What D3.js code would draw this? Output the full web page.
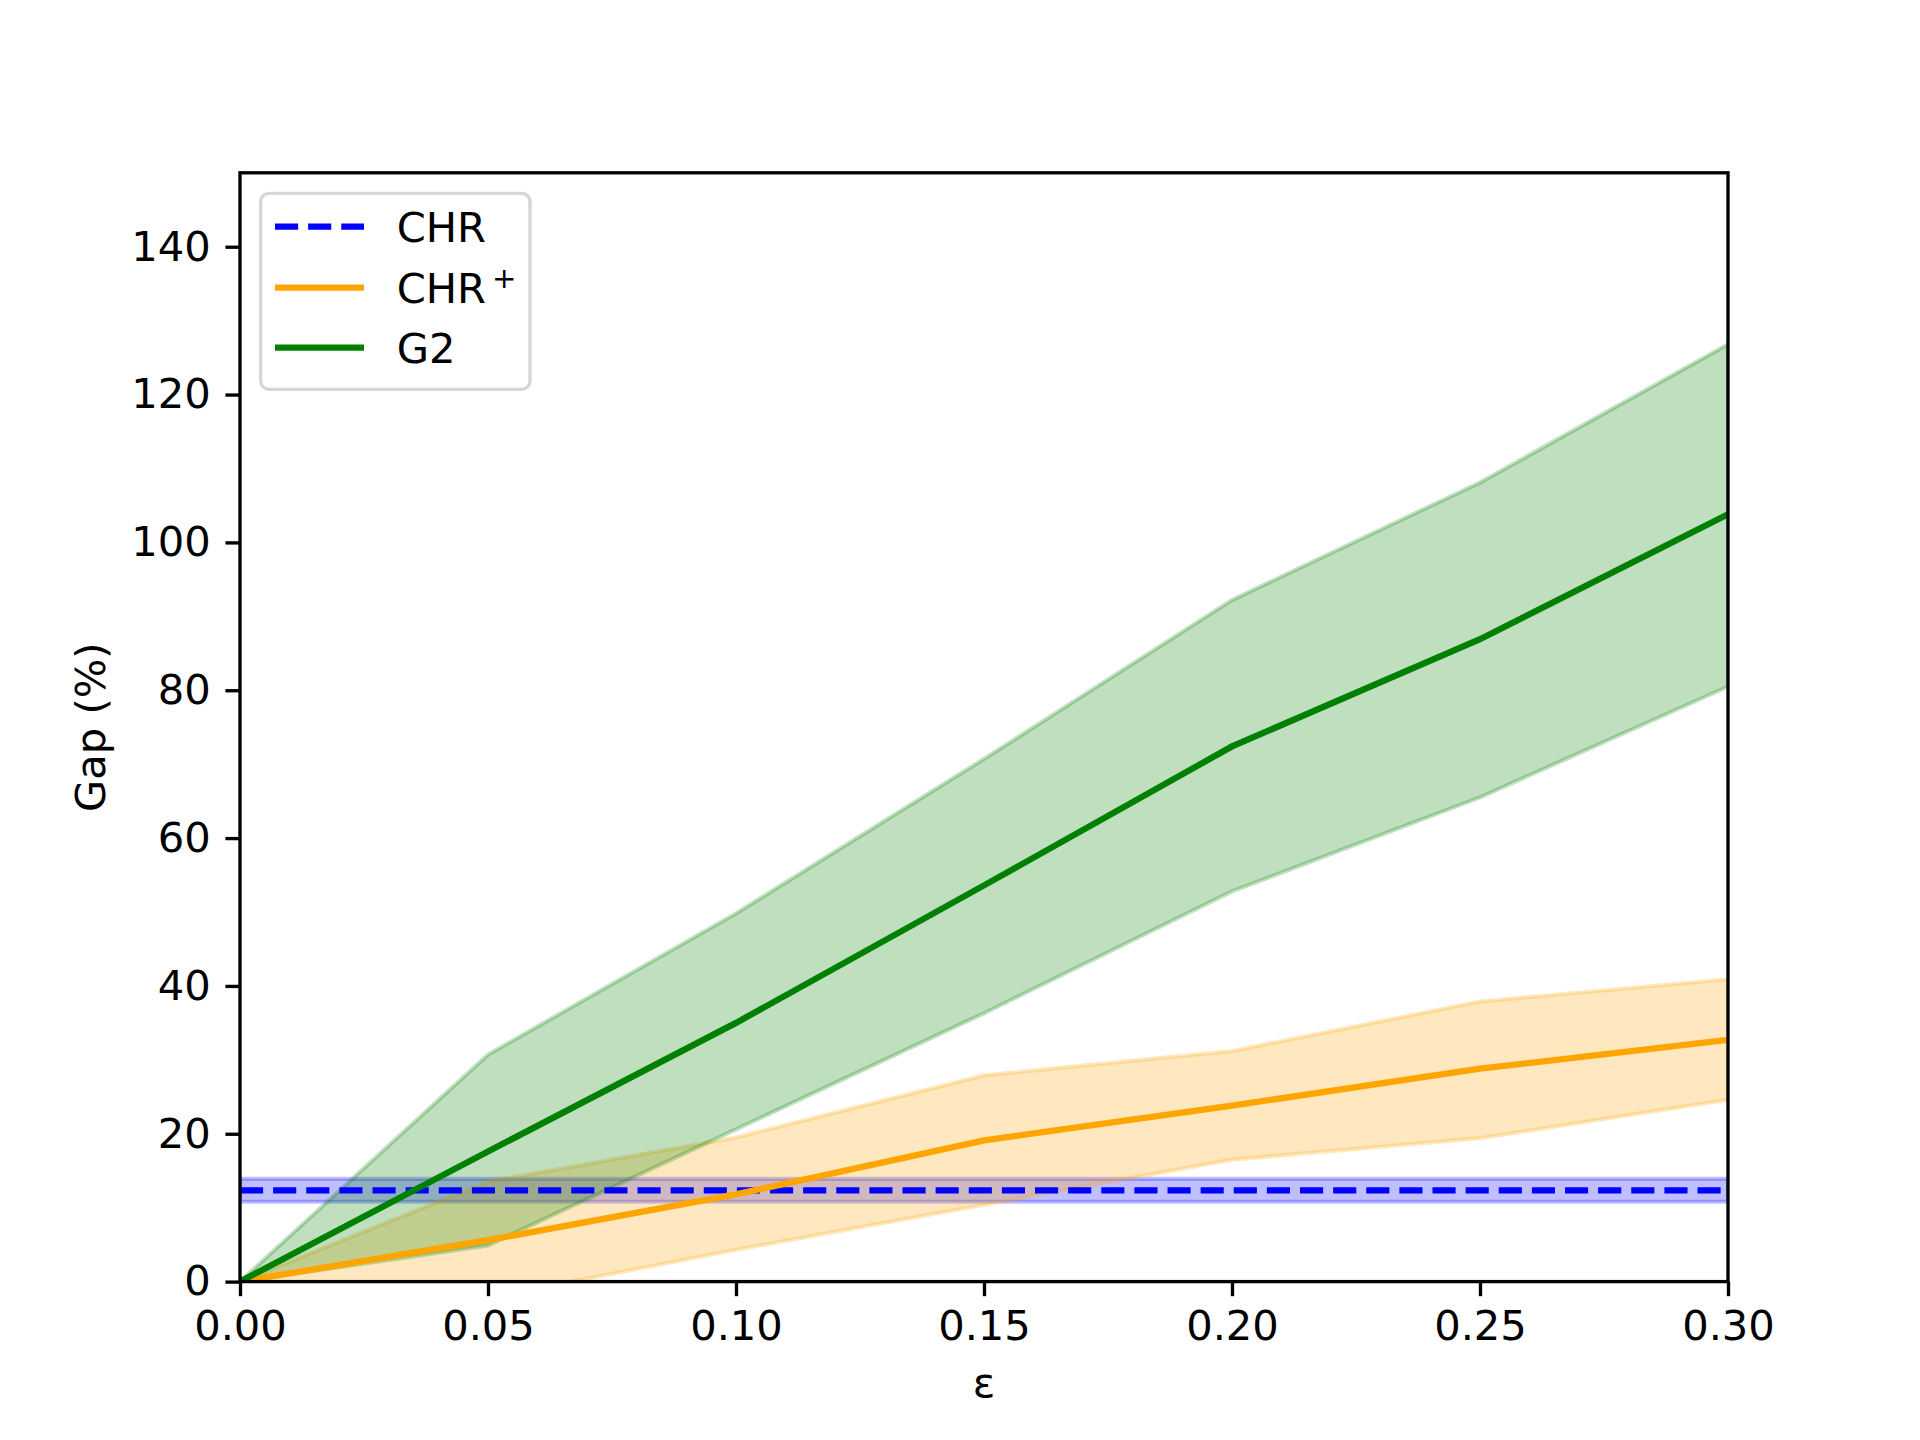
<!DOCTYPE html>
<html>
<head>
<meta charset="utf-8">
<script src="https://cdn.jsdelivr.net/npm/d3@7"></script>
<style>
  body { margin: 0; background: #fff; }
  svg text { font-family: "DejaVu Sans", sans-serif; }
</style>
</head>
<body>
<svg id="chart" width="1920" height="1440"></svg>
<script>
// epsilon values on the x axis
var eps = [0, 0.05, 0.10, 0.15, 0.20, 0.25, 0.30];

// CHR (flat baseline)
var chrMean = [12.35, 12.35, 12.35, 12.35, 12.35, 12.35, 12.35];
var chrLow  = [10.8, 10.8, 10.8, 10.8, 10.8, 10.8, 10.8];
var chrHigh = [13.9, 13.9, 13.9, 13.9, 13.9, 13.9, 13.9];

// CHR+
var chrPlusMean = [0, 5.6, 11.8, 19.1, 23.8, 28.8, 32.7];
var chrPlusLow  = [0, -2.2, 4.3, 10.4, 16.5, 19.4, 24.6];
var chrPlusHigh = [0, 13.5, 19.5, 27.9, 31.2, 37.9, 40.9];

// G2
var g2Mean = [0, 17.6, 35.0, 53.6, 72.4, 86.9, 103.8];
var g2Low  = [0, 4.9, 20.6, 36.3, 52.8, 65.5, 80.5];
var g2High = [0, 30.7, 49.8, 70.7, 92.2, 108.1, 126.8];

var xTicks = [0, 0.05, 0.10, 0.15, 0.20, 0.25, 0.30];
var yTicks = [0, 20, 40, 60, 80, 100, 120, 140];

var PT = 300 / 72;            // px per point at 300 dpi
var FONT = 10 * PT;

var L = 240, R = 1728, T = 172.8, B = 1281.6;

var svg = d3.select("#chart");

var x = d3.scaleLinear().domain([0, 0.3]).range([L, R]);
var y = d3.scaleLinear().domain([0, 150]).range([B, T]);

svg.append("defs").append("clipPath").attr("id", "plotclip")
    .append("rect").attr("x", L).attr("y", T).attr("width", R - L).attr("height", B - T);

var series = [
    { name: "CHR", mean: chrMean, low: chrLow, high: chrHigh, color: "blue", dash: (3.7 * 1.5 * PT) + "," + (1.6 * 1.5 * PT) },
    { name: "CHR+", mean: chrPlusMean, low: chrPlusLow, high: chrPlusHigh, color: "orange", dash: null },
    { name: "G2", mean: g2Mean, low: g2Low, high: g2High, color: "green", dash: null }
];

var plot = svg.append("g").attr("clip-path", "url(#plotclip)");

var area = d3.area()
    .x(function(d) { return x(d.e); })
    .y0(function(d) { return y(d.lo); })
    .y1(function(d) { return y(d.hi); });

var line = d3.line()
    .x(function(d) { return x(d.e); })
    .y(function(d) { return y(d.v); });

series.forEach(function(s) {
    var pts = eps.map(function(e, i) { return { e: e, lo: s.low[i], hi: s.high[i] }; });
    plot.append("path")
        .datum(pts)
        .attr("d", area)
        .attr("fill", s.color)
        .attr("fill-opacity", 0.25)
        .attr("stroke", s.color)
        .attr("stroke-opacity", 0.25)
        .attr("stroke-width", 1 * PT);
});

series.forEach(function(s) {
    var pts = eps.map(function(e, i) { return { e: e, v: s.mean[i] }; });
    var p = plot.append("path")
        .datum(pts)
        .attr("d", line)
        .attr("fill", "none")
        .attr("stroke", s.color)
        .attr("stroke-width", 1.5 * PT);
    if (s.dash) p.attr("stroke-dasharray", s.dash);
});

// axes
var xAxis = svg.append("g")
    .attr("transform", "translate(0," + B + ")")
    .call(d3.axisBottom(x).tickValues(xTicks).tickFormat(d3.format(".2f"))
        .tickSize(3.5 * PT).tickPadding(3.5 * PT).tickSizeOuter(0));
var yAxis = svg.append("g")
    .attr("transform", "translate(" + L + ",0)")
    .call(d3.axisLeft(y).tickValues(yTicks).tickFormat(d3.format("d"))
        .tickSize(3.5 * PT).tickPadding(3.5 * PT).tickSizeOuter(0));

[xAxis, yAxis].forEach(function(a) {
    a.select(".domain").remove();
    a.selectAll(".tick line").attr("stroke", "#000").attr("stroke-width", 0.8 * PT);
    a.selectAll(".tick text")
        .attr("fill", "#000")
        .style("font-family", "DejaVu Sans")
        .style("font-size", FONT + "px");
});

// spines
svg.append("rect")
    .attr("x", L).attr("y", T).attr("width", R - L).attr("height", B - T)
    .attr("fill", "none").attr("stroke", "#000").attr("stroke-width", 0.8 * PT);

// axis labels
svg.append("text")
    .attr("x", (L + R) / 2).attr("y", 1397)
    .attr("text-anchor", "middle")
    .style("font-size", FONT + "px")
    .text("ε");

svg.append("text")
    .attr("transform", "translate(105," + ((T + B) / 2) + ") rotate(-90)")
    .attr("text-anchor", "middle")
    .style("font-size", FONT + "px")
    .text("Gap (%)");

// legend
var legend = svg.append("g");
legend.append("rect")
    .attr("x", 260.7).attr("y", 193.3).attr("width", 269.3).attr("height", 196)
    .attr("rx", 8.3).attr("ry", 8.3)
    .attr("fill", "#fff").attr("fill-opacity", 0.8)
    .attr("stroke", "#d6d6d6").attr("stroke-width", 0.8 * PT);

var legendY = [226.7, 287.7, 347.7];
series.forEach(function(s, i) {
    var ly = legendY[i];
    var seg = legend.append("line")
        .attr("x1", 275).attr("x2", 364)
        .attr("y1", ly).attr("y2", ly)
        .attr("stroke", s.color).attr("stroke-width", 1.5 * PT);
    if (s.dash) seg.attr("stroke-dasharray", s.dash);
    var t = legend.append("text")
        .attr("x", 396.7).attr("y", ly + 15)
        .style("font-size", FONT + "px");
    if (s.name === "CHR+") {
        t.append("tspan").text("CHR");
        t.append("tspan").attr("dx", 6).attr("dy", -15)
            .style("font-size", (FONT * 0.7) + "px").text("+");
    } else {
        t.text(s.name);
    }
});
</script>
</body>
</html>
